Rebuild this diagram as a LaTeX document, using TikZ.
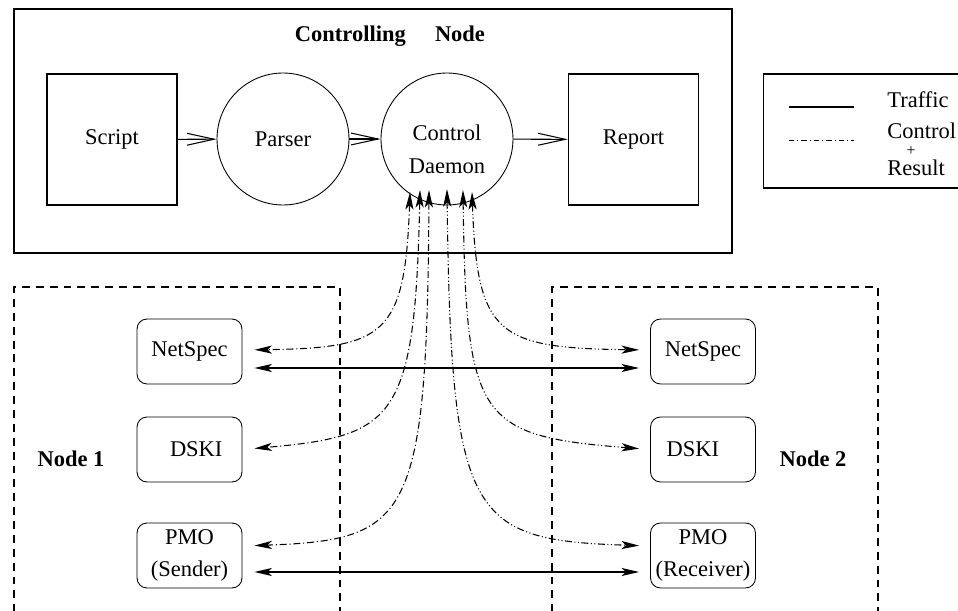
\documentclass[tikz,border=0pt]{standalone}
\usepackage{fontspec}
\setmainfont{Liberation Serif}
\usepackage{tikz}
\usetikzlibrary{positioning, arrows.meta, shapes.geometric}
\tikzset{>=Stealth}
\tikzset{
    every node/.style = {font=\fontsize{12.8}{18.7}\selectfont},
    frame/.style = {rectangle, draw, line width=0.8pt, inner sep=0pt},
    block/.style = {rectangle, draw, line width=0.8pt, minimum width=2.6cm,
                        minimum height=2.62cm, align=center},
    process/.style = {circle, draw, line width=0.5pt, minimum size=2.64cm, inner sep=0pt},
    module/.style = {rectangle, rounded corners=0.2cm, draw, line width=0.5pt,
                        minimum width=2.1cm, minimum height=1.3cm, inner sep=0pt, align=center},
    head/.style = {font=\fontsize{12.8}{18.7}\selectfont\bfseries},
    key/.style = {anchor=west, inner sep=0pt},
    zone/.style = {line width=0.7pt, dash pattern=on 4.5pt off 3.4pt},
    flow/.style = {-{Straight Barb[length=15.5pt, width=6.8pt]}, line width=0.6pt},
    traffic/.style = {{Stealth[length=10pt, width=4.6pt, inset=2.5pt]}-{Stealth[length=10pt, width=4.6pt, inset=2.5pt]},
                        line width=0.75pt},
    ctrlL/.style = {{Stealth[length=10pt, width=4.6pt, inset=2.5pt]}-{Stealth[length=10pt, width=4.6pt, inset=2.5pt]},
                        line width=0.6pt, dash pattern=on 4pt off 1.6pt on 0.6pt off 1.6pt},
    ctrlR/.style = {{Stealth[length=10pt, width=4.6pt, inset=2.5pt]}-{Stealth[length=10pt, width=4.6pt, inset=2.5pt]},
                        line width=0.6pt, dash pattern=on 4pt off 1.4pt on 0.6pt off 1.4pt on 0.6pt off 1.4pt}
}

\begin{document}
\begin{tikzpicture}[x=0.02cm, y=-0.02cm]
    \useasboundingbox (0,0) rectangle (958,611);

    \node (ctrl) [frame, minimum width=14.36cm, minimum height=4.88cm] at (373,131) {};
    \node (title) [head] at (390,36) {Controlling\hspace{1.3em}Node};
    \node (script) [block] at (112,139.5) {Script};
    \node (parser) [process] at (283,139) {Parser};
    \node (daemon) [process] at (447,139) {};
    \node (daemontxt) [align=center] at (447,149) {Control\\Daemon};
    \node (report) [block] at (633.5,139.5) {Report};
    \draw [flow] (script) -- (parser);
    \draw [flow] (parser) -- (daemon);
    \draw [flow] (daemon) -- (report);

    \node (legend) [frame, line width=0.6pt, minimum width=4.1cm, minimum height=2.28cm] at (866,131) {};
    \coordinate (lgA) at (789,107);
    \coordinate (lgB) at (854,107);
    \coordinate (lgC) at (789,140);
    \coordinate (lgD) at (854,140);
    \draw [line width=0.6pt] (lgA) -- (lgB);
    \draw [line width=0.5pt, dash pattern=on 3pt off 1.8pt on 0.5pt off 1.8pt] (lgC) -- (lgD);
    \node (lgtraffic) [key] at (887,100) {Traffic};
    \node (lgcontrol) [key] at (887,131) {Control};
    \node (lgplus) [inner sep=0pt, font=\fontsize{9}{9}\selectfont] at (911,151) {+};
    \node (lgresult) [key] at (887,168) {Result};

    \draw [zone] (14,640) -- (14,287) -- (340,287) -- (340,640);
    \draw [zone] (552,640) -- (552,287) -- (878,287) -- (878,640);
    \node (n1) [head] at (71,459) {Node 1};
    \node (n2) [head] at (813,459) {Node 2};

    \node (ns1) [module] at (189.5,351.5) {NetSpec};
    \node (ds1) [module] at (189.5,449.5) {\hspace*{0.6em}DSKI};
    \node (pm1) [module] at (189.5,555.5) {PMO\\(Sender)};
    \node (ns2) [module] at (703,351.5) {NetSpec};
    \node (ds2) [module] at (703,449.5) {DSKI\hspace*{0.9em}};
    \node (pm2) [module] at (703,555.5) {PMO\\(Receiver)};

    \draw [traffic, shorten <=0.24cm, shorten >=0.22cm] ([yshift=-0.33cm]ns1.east) -- ([yshift=-0.33cm]ns2.west);
    \draw [traffic, shorten <=0.24cm, shorten >=0.22cm] ([yshift=-0.33cm]pm1.east) -- ([yshift=-0.33cm]pm2.west);

    \draw [ctrlL, shorten >=0.24cm] ([shift={(-37,53)}]daemon.center) .. controls (405,335) and (385,348) .. ([yshift=0.03cm]ns1.east);
    \draw [ctrlL, shorten >=0.24cm] ([shift={(-27,51)}]daemon.center) .. controls (415,420) and (395,436) .. (ds1.east);
    \draw [ctrlL, shorten >=0.24cm] ([shift={(-18,51)}]daemon.center) .. controls (427,520) and (410,540) .. ([yshift=0.19cm]pm1.east);
    \draw [ctrlR, shorten >=0.22cm] ([shift={(0,50)}]daemon.center) .. controls (451,520) and (470,540) .. ([yshift=0.19cm]pm2.west);
    \draw [ctrlR, shorten >=0.22cm] ([shift={(16,51)}]daemon.center) .. controls (466,420) and (478,436) .. (ds2.west);
    \draw [ctrlR, shorten >=0.22cm] ([shift={(25,53)}]daemon.center) .. controls (477,335) and (497,348) .. ([yshift=0.03cm]ns2.west);
\end{tikzpicture}
\end{document}
